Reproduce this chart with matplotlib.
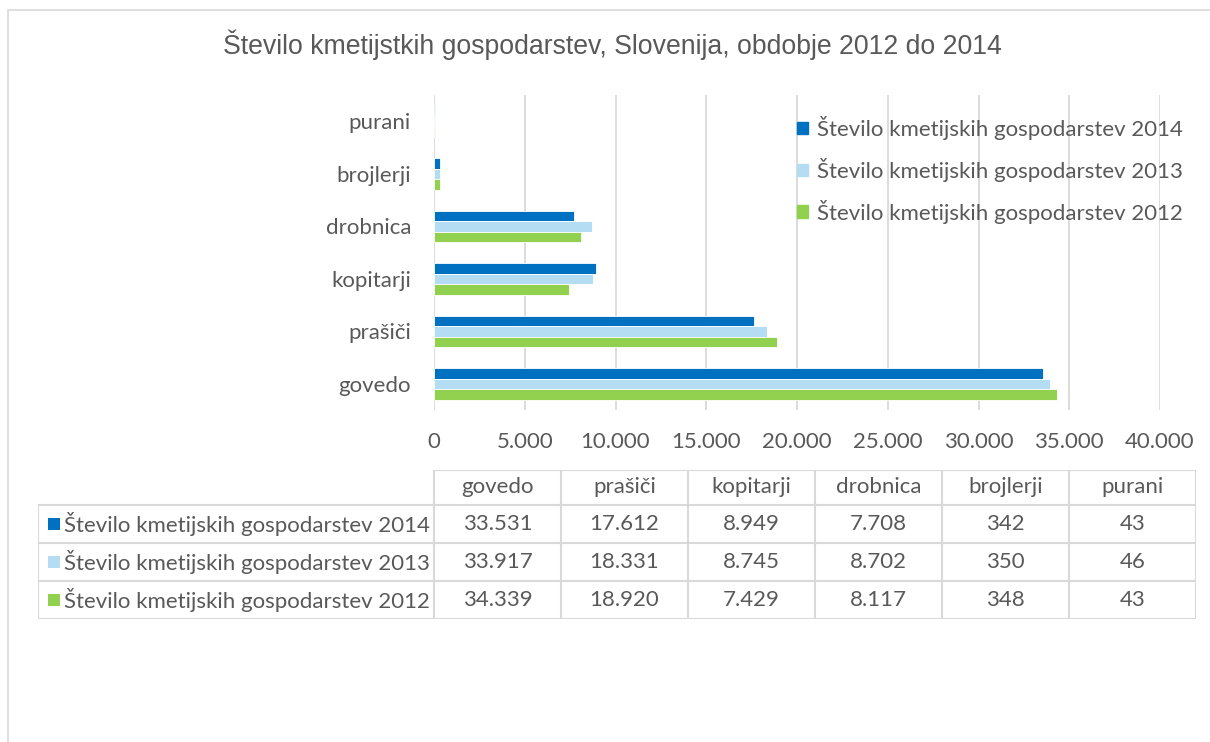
import numpy as np
import matplotlib
matplotlib.use("Agg")
import matplotlib.pyplot as plt
from matplotlib.patches import Rectangle

# data
categories = ["govedo", "prašiči", "kopitarji", "drobnica", "brojlerji", "purani"]
series_names = ["Število kmetijskih gospodarstev 2014",
                "Število kmetijskih gospodarstev 2013",
                "Število kmetijskih gospodarstev 2012"]
vals_2014 = [33531, 17612, 8949, 7708, 342, 43]
vals_2013 = [33917, 18331, 8745, 8702, 350, 46]
vals_2012 = [34339, 18920, 7429, 8117, 348, 43]
colors = ["#0070C0", "#B4DCF2", "#92D050"]
xticks = np.arange(0, 40001, 5000)

title = "Število kmetijstkih gospodarstev, Slovenija, obdobje 2012 do 2014"

TXT = "#595959"
GRID = "#D9D9D9"
FS = 16
plt.rcParams["font.family"] = ["Lato", "DejaVu Sans"]


def fmt(v):
    return f"{v:,}".replace(",", ".")


W, H = 1210, 742
fig = plt.figure(figsize=(W / 100, H / 100), dpi=100)

# outer chart frame (clipped at right/bottom like in the screenshot)
fig.patches.append(Rectangle((8 / W, -0.05), 1.1, 1 - 10 / H + 0.05,
                             transform=fig.transFigure, fill=False,
                             edgecolor=GRID, linewidth=1.2))

fig.text(612 / W, 1 - 45 / H, title, ha="center", va="center", fontsize=19.2,
         color=TXT, family=["Liberation Sans", "DejaVu Sans"])

# bar chart
ax = fig.add_axes([434 / W, 1 - 410 / H, 726 / W, 315 / H])
series = [vals_2014, vals_2013, vals_2012]
y = np.arange(len(categories))
bh = 0.2
for i, (vals, c, name) in enumerate(zip(series, colors, series_names)):
    ax.barh(y + (1 - i) * bh, vals, height=bh, color=c, edgecolor="white",
            linewidth=0.6, label=name, zorder=3)

ax.set_xlim(0, 40000)
ax.set_ylim(-0.5, len(categories) - 0.5)
ax.set_xticks(xticks)
ax.set_xticklabels([fmt(t) for t in xticks])
ax.set_yticks(y)
ax.set_yticklabels(categories)
ax.tick_params(length=0, labelsize=FS, colors=TXT)
ax.tick_params(axis="x", pad=16)
ax.tick_params(axis="y", pad=16.5)
ax.grid(axis="x", color=GRID, linewidth=1.3, zorder=0)
for s in ax.spines.values():
    s.set_visible(False)

handles = [Rectangle((0, 0), 1, 1, color=c) for c in colors]
leg = ax.legend(handles, series_names, loc="upper left",
                bbox_to_anchor=(0.4725, 0.997), frameon=False, fontsize=FS,
                handlelength=0.5, handleheight=0.5, handletextpad=0.4,
                labelspacing=0.8, labelcolor=TXT)

# data table
tx0, tx1 = 38, 1196
ty_top, ty_bot = 470, 619
tab = fig.add_axes([tx0 / W, 1 - ty_bot / H, (tx1 - tx0) / W, (ty_bot - ty_top) / H])
label_w = (434 - tx0) / 127.0
ncol = len(categories)
tab.set_xlim(-label_w, ncol)
header_h = 0.92
tab.set_ylim(0, 3 + header_h)
tab.axis("off")

lk = dict(color=GRID, linewidth=1.5, solid_capstyle="projecting")
# horizontal lines
tab.plot([0, ncol], [3 + header_h] * 2, **lk)
for r in range(4):
    tab.plot([-label_w, ncol], [r, r], **lk)
# vertical lines
tab.plot([-label_w, -label_w], [0, 3], **lk)
for c in range(ncol + 1):
    tab.plot([c, c], [0, 3 + header_h], **lk)

for c, cat in enumerate(categories):
    tab.text(c + 0.5, 3 + header_h / 2, cat, ha="center", va="center",
             fontsize=FS, color=TXT)
for r, (vals, col, name) in enumerate(zip(series, colors, series_names)):
    yc = 3 - r - 0.5
    tab.add_patch(Rectangle((-label_w + 0.08, yc - 0.17), 0.095, 0.33,
                            color=col, linewidth=0))
    tab.text(-label_w + 0.205, yc, name, ha="left", va="center",
             fontsize=FS, color=TXT)
    for c, v in enumerate(vals):
        tab.text(c + 0.5, yc, fmt(v), ha="center", va="center",
                 fontsize=FS, color=TXT)

fig.savefig("out.png", dpi=100)
